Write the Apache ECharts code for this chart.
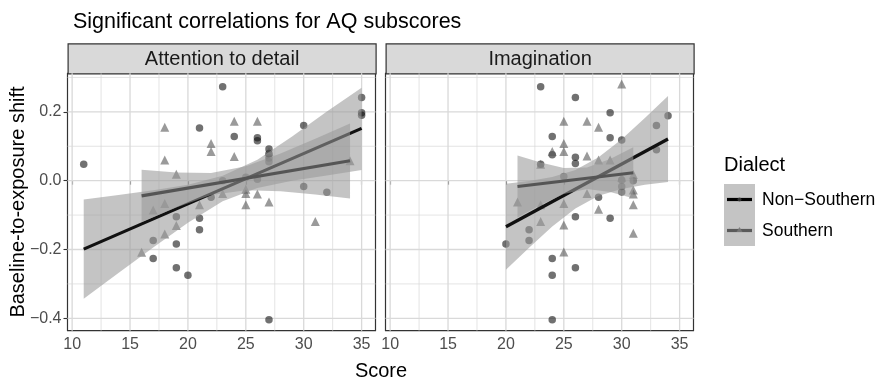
<!DOCTYPE html>
<html><head><meta charset="utf-8">
<script src="https://cdn.jsdelivr.net/npm/echarts@6/dist/echarts.min.js"></script>
<style>html,body{margin:0;padding:0;background:#fff}#c{width:883px;height:384px}</style>
</head><body><div id="c"></div>
<script>
const titleText = "Significant correlations for AQ subscores";
const panels = ["Attention to detail", "Imagination"];
const groups = ["Non\u2212Southern", "Southern"];
const xTicks = [10, 15, 20, 25, 30, 35];
const xMinor = [12.5, 17.5, 22.5, 27.5, 32.5];
const yTicks = [-0.4, -0.2, 0.0, 0.2];
const yMinor = [-0.3, -0.1, 0.1, 0.3];

// Attention to detail
const attnNonSouthern = [[11,0.048],[23,0.273],[21,0.153],[24,0.128],[26,0.125],[26,0.116],[27,0.092],[27,0.078],[27,0.066],[27,0.055],[30,0.160],[35,0.242],[35,0.197],[35,0.190],[30,-0.017],[32,-0.034],[23,0.000],[22,-0.048],[26,0.004],[25,0.010],[19,-0.105],[21,-0.109],[21,-0.143],[17,-0.174],[19,-0.184],[17,-0.226],[19,-0.253],[20,-0.275],[27,-0.404]];
const attnSouthern = [[18,0.155],[18,0.060],[19,0.019],[22,0.108],[22,0.085],[24,0.173],[26,0.173],[24,0.070],[27,0.085],[17,-0.085],[18,-0.066],[19,-0.130],[18,-0.155],[16,-0.208],[21,-0.070],[23,-0.037],[25,-0.025],[25,-0.037],[25,-0.070],[26,-0.039],[27,-0.062],[31,-0.119],[34,0.058]];
const attnNonSouthernFit = [[11,-0.199],[35,0.152]];
const attnSouthernFit = [[16,-0.044],[34,0.058]];
const attnNonSouthernBand = [[11,-0.343,-0.055],[14,-0.268,-0.042],[17,-0.194,-0.028],[20,-0.122,-0.012],[23,-0.060,0.014],[26,-0.021,0.061],[29,0.000,0.128],[32,0.015,0.201],[35,0.031,0.270]];
const attnSouthernBand = [[16,-0.120,0.032],[19,-0.078,0.024],[22,-0.042,0.022],[25,-0.028,0.042],[28,-0.031,0.079],[31,-0.040,0.122],[34,-0.052,0.166]];

// Imagination
const imagNonSouthern = [[23,0.273],[26,0.242],[29,0.197],[24,0.128],[29,0.125],[30,0.118],[33,0.160],[34,0.189],[33,0.090],[24,0.075],[26,0.068],[26,0.050],[23,0.048],[25,0.012],[30,0.002],[30,-0.017],[30,-0.033],[31,0.000],[28,-0.048],[26,-0.105],[29,-0.109],[22,-0.143],[22,-0.174],[20,-0.184],[24,-0.226],[26,-0.253],[24,-0.275],[24,-0.404]];
const imagSouthern = [[30,0.281],[25,0.173],[27,0.173],[28,0.155],[25,0.108],[25,0.085],[24,0.085],[23,0.048],[27,0.072],[28,0.060],[29,0.060],[30,0.010],[31,0.018],[31,-0.027],[31,-0.039],[27,-0.037],[21,-0.062],[23,-0.070],[25,-0.066],[31,-0.070],[28,-0.083],[23,-0.119],[25,-0.129],[31,-0.153],[25,-0.207]];
const imagNonSouthernFit = [[20,-0.134],[34,0.121]];
const imagSouthernFit = [[21,-0.017],[31,0.023]];
const imagNonSouthernBand = [[20,-0.259,-0.009],[22,-0.195,-0.001],[24,-0.133,0.011],[26,-0.081,0.031],[28,-0.044,0.068],[30,-0.024,0.120],[32,-0.012,0.182],[34,-0.004,0.246]];
const imagSouthernBand = [[21,-0.107,0.073],[23,-0.071,0.053],[25,-0.039,0.037],[27,-0.024,0.038],[29,-0.033,0.063],[31,-0.051,0.097]];

const FONT = "'Liberation Sans', Arial, sans-serif";
const X_MIN = 9.6, X_MAX = 36.2, Y_MIN = -0.436, Y_MAX = 0.312;
const bandColor = 'rgba(153,153,153,0.58)';
const gridColor = '#d9d9d9';

const chart = echarts.init(document.getElementById('c'), null, {renderer: 'canvas'});

function gridLineSeries(gi) {
  return {
    type: 'custom', xAxisIndex: gi, yAxisIndex: gi, data: [[20, 0]], silent: true, z: 1,
    renderItem(params, api) {
      const ch = [];
      const add = (a, b, w) => ch.push({type: 'line', shape: {x1: a[0], y1: a[1], x2: b[0], y2: b[1]}, style: {stroke: gridColor, lineWidth: w}});
      xMinor.forEach(v => add(api.coord([v, Y_MIN]), api.coord([v, Y_MAX]), 0.7));
      yMinor.forEach(v => add(api.coord([X_MIN, v]), api.coord([X_MAX, v]), 0.7));
      xTicks.forEach(v => add(api.coord([v, Y_MIN]), api.coord([v, Y_MAX]), 1.3));
      yTicks.forEach(v => add(api.coord([X_MIN, v]), api.coord([X_MAX, v]), 1.3));
      return {type: 'group', children: ch};
    }
  };
}
function bandSeries(gi, band, z) {
  return {
    type: 'custom', xAxisIndex: gi, yAxisIndex: gi, data: band, silent: true, z: z,
    encode: {x: 0, y: [1, 2]},
    renderItem(params, api) {
      if (params.dataIndex !== 0) return null;
      const up = band.map(d => api.coord([d[0], d[2]]));
      const lo = band.slice().reverse().map(d => api.coord([d[0], d[1]]));
      return {type: 'polygon', shape: {points: up.concat(lo)}, style: {fill: bandColor}};
    }
  };
}
function fitSeries(gi, data, color, z) {
  return {type: 'line', xAxisIndex: gi, yAxisIndex: gi, data: data, symbol: 'none', silent: true, z: z,
    lineStyle: {color: color, width: 3.2}};
}
function pointSeries(gi, data, shape) {
  const circ = shape === 'circle';
  return {type: 'scatter', xAxisIndex: gi, yAxisIndex: gi, data: data, silent: true, z: 2,
    symbol: shape, symbolSize: circ ? 7.5 : 9,
    itemStyle: {color: circ ? 'rgba(15,15,15,0.74)' : 'rgba(85,85,85,0.74)'}};
}

const gridTop = 73.3, gridH = 257.4, gridW = 308;
const gridLefts = [67.5, 385.5];

function xAxis(gi) {
  return {gridIndex: gi, type: 'value', min: X_MIN, max: X_MAX,
    axisLine: {show: false}, splitLine: {show: false},
    axisTick: {show: true, customValues: xTicks, length: 4, lineStyle: {color: '#333', width: 1.1}},
    axisLabel: {customValues: xTicks, color: '#4d4d4d', fontSize: 16, fontFamily: FONT, margin: 6}};
}
function yAxis(gi) {
  return {gridIndex: gi, type: 'value', min: Y_MIN, max: Y_MAX,
    axisLine: {show: false}, splitLine: {show: false},
    axisTick: {show: gi === 0, customValues: yTicks, length: 4, lineStyle: {color: '#333', width: 1.1}},
    axisLabel: {show: gi === 0, customValues: yTicks, color: '#4d4d4d', fontSize: 16, fontFamily: FONT, margin: 6,
      formatter: v => v.toFixed(1).replace('-', '\u2212')}};
}

const stripGraphics = panels.map((p, i) => ({
  type: 'group', left: gridLefts[i], top: 43.3,
  children: [
    {type: 'rect', shape: {x: 0, y: 0, width: gridW, height: 30}, style: {fill: '#d9d9d9', stroke: '#333', lineWidth: 1.2}},
    {type: 'text', style: {x: gridW / 2, y: 15.5, text: p, fill: '#1a1a1a', font: '20px ' + FONT, textAlign: 'center', textVerticalAlign: 'middle'}}
  ]
}));

const legendGraphic = {
  type: 'group', left: 724, top: 155,
  children: [
    {type: 'text', style: {x: 0, y: 12, text: 'Dialect', fill: '#000', font: '20px ' + FONT, textVerticalAlign: 'middle'}},
    {type: 'rect', shape: {x: 0, y: 31, width: 31, height: 62}, style: {fill: '#c4c4c4'}},
    {type: 'line', shape: {x1: 3, y1: 46.5, x2: 28, y2: 46.5}, style: {stroke: '#000', lineWidth: 3.2}},
    {type: 'circle', shape: {cx: 15.5, cy: 46.5, r: 2}, style: {fill: 'rgba(60,60,60,0.8)'}},
    {type: 'line', shape: {x1: 3, y1: 77.5, x2: 28, y2: 77.5}, style: {stroke: '#5a5a5a', lineWidth: 3.2}},
    {type: 'polygon', shape: {points: [[15.5, 74], [18.5, 79], [12.5, 79]]}, style: {fill: 'rgba(120,120,120,0.9)'}},
    {type: 'text', style: {x: 38, y: 47, text: groups[0], fill: '#000', font: '17.5px ' + FONT, textVerticalAlign: 'middle'}},
    {type: 'text', style: {x: 38, y: 78, text: groups[1], fill: '#000', font: '17.5px ' + FONT, textVerticalAlign: 'middle'}}
  ]
};

const option = {
  animation: false,
  backgroundColor: '#fff',
  title: {text: titleText, left: 68, top: 6, textStyle: {fontSize: 21.5, fontWeight: 'normal', color: '#000', fontFamily: FONT}},
  grid: gridLefts.map(l => ({left: l, top: gridTop, width: gridW, height: gridH, show: true, backgroundColor: '#fff', borderColor: '#333', borderWidth: 1.2})),
  xAxis: [xAxis(0), xAxis(1)],
  yAxis: [yAxis(0), yAxis(1)],
  graphic: stripGraphics.concat([
    legendGraphic,
    {type: 'text', style: {x: 381, y: 371, text: 'Score', fill: '#000', font: '20px ' + FONT, textAlign: 'center', textVerticalAlign: 'middle'}},
    {type: 'text', style: {x: 18, y: 202, text: 'Baseline-to-exposure shift', fill: '#000', font: '20px ' + FONT, textAlign: 'center', textVerticalAlign: 'middle'}, rotation: Math.PI / 2, originX: 18, originY: 202}
  ]),
  series: [
    gridLineSeries(0), gridLineSeries(1),
    pointSeries(0, attnNonSouthern, 'circle'), pointSeries(0, attnSouthern, 'triangle'),
    pointSeries(1, imagNonSouthern, 'circle'), pointSeries(1, imagSouthern, 'triangle'),
    bandSeries(0, attnNonSouthernBand, 3), fitSeries(0, attnNonSouthernFit, '#111', 4),
    bandSeries(0, attnSouthernBand, 5), fitSeries(0, attnSouthernFit, '#555', 6),
    bandSeries(1, imagNonSouthernBand, 3), fitSeries(1, imagNonSouthernFit, '#111', 4),
    bandSeries(1, imagSouthernBand, 5), fitSeries(1, imagSouthernFit, '#555', 6)
  ]
};
chart.setOption(option);
</script></body></html>
